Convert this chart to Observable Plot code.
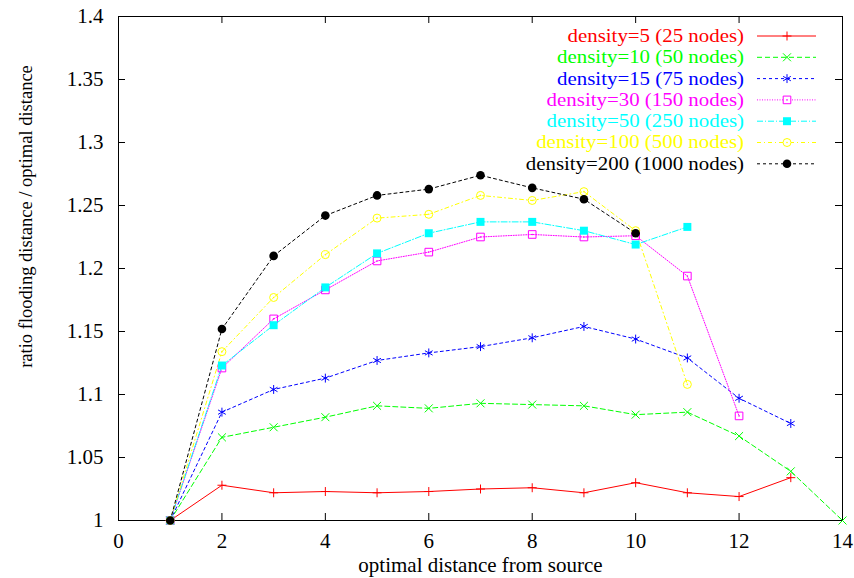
<!DOCTYPE html>
<html><head><meta charset="utf-8">
<script src="https://cdn.jsdelivr.net/npm/d3@7"></script>
<script src="https://cdn.jsdelivr.net/npm/@observablehq/plot@0.6"></script>
<style>body{margin:0;background:#fff} svg text{font-family:"Liberation Serif","Times New Roman",Times,"DejaVu Serif",serif !important;}</style>
</head><body><div id="chart"></div>
<script>
const distances = [1,2,3,4,5,6,7,8,9,10,11,12,13,14];
const seriesNames = [
  "density=5 (25 nodes)",
  "density=10 (50 nodes)",
  "density=15 (75 nodes)",
  "density=30 (150 nodes)",
  "density=50 (250 nodes)",
  "density=100 (500 nodes)",
  "density=200 (1000 nodes)"
];
const density5   = [1.000,1.028,1.022,1.023,1.022,1.023,1.025,1.026,1.022,1.030,1.022,1.019,1.034];
const density10  = [1.000,1.066,1.074,1.082,1.091,1.089,1.093,1.092,1.091,1.084,1.086,1.067,1.039,1.000];
const density15  = [1.000,1.086,1.104,1.113,1.127,1.133,1.138,1.145,1.154,1.144,1.129,1.097,1.077];
const density30  = [1.000,1.121,1.160,1.183,1.206,1.213,1.225,1.227,1.225,1.226,1.194,1.083];
const density50  = [1.000,1.123,1.155,1.185,1.212,1.228,1.237,1.237,1.230,1.219,1.233];
const density100 = [1.000,1.134,1.177,1.211,1.240,1.243,1.258,1.254,1.261,1.230,1.108];
const density200 = [1.000,1.152,1.210,1.242,1.258,1.263,1.274,1.264,1.255,1.228];
const seriesValues = [density5, density10, density15, density30, density50, density100, density200];

const xTicks = [0,2,4,6,8,10,12,14];
const yTicks = [1,1.05,1.1,1.15,1.2,1.25,1.3,1.35,1.4];
const xLabel = "optimal distance from source";
const yLabel = "ratio flooding distance / optimal distance";

const colors  = ["#ff0000","#00ff00","#0000ff","#ff00ff","#00ffff","#ffff00","#000000"];
const symbols = ["plus","times","asterisk","square","square","circle","circle"];
const filled  = [false,false,false,false,true,false,true];
const centerDot = [false,false,false,true,false,true,false];
const symR    = [3.0,3.7,4.2,4.3,4.5,4.0,4.3];
const dashes  = [null,"5,3","3,3","1,1.5","6,2,1,2","4,3,1,3","3,3"];

const FONT = '"Liberation Serif","Times New Roman",Times,"DejaVu Serif",serif';
const W = 854, H = 578, mL = 118, mR = 12, mT = 16, mB = 58;
const pw = W - mL - mR, ph = H - mT - mB;

const rows = seriesValues.map((vals, i) => vals.map((v, j) => ({series: seriesNames[i], x: distances[j], y: v})));

const marks = [
  Plot.frame({stroke: "black"}),
  Plot.tickY(yTicks, {y: d => d, insetRight: pw - 7, stroke: "black"}),
  Plot.tickY(yTicks, {y: d => d, insetLeft: pw - 7, stroke: "black"}),
  Plot.tickX(xTicks, {x: d => d, insetTop: ph - 7, stroke: "black"}),
  Plot.tickX(xTicks, {x: d => d, insetBottom: ph - 7, stroke: "black"}),
  Plot.axisX({ticks: xTicks, tickSize: 0, tickPadding: 13, label: null, tickFormat: d => String(d)}),
  Plot.axisY({ticks: yTicks, tickSize: 0, tickPadding: 15, label: null, tickFormat: d => String(+d.toFixed(2))}),
  Plot.text([xLabel], {text: d => d, frameAnchor: "bottom", lineAnchor: "middle", textAnchor: "middle", dy: 45}),
  Plot.text([yLabel], {text: d => d, frameAnchor: "left", textAnchor: "middle", lineAnchor: "middle", dx: -92, dy: -52, rotate: -90, fontSize: 18.5})
];
rows.forEach((data, i) => {
  marks.push(Plot.line(data, {x: "x", y: "y", stroke: colors[i], strokeWidth: 1, strokeDasharray: dashes[i] || undefined}));
});
rows.forEach((data, i) => {
  marks.push(Plot.dot(data, {x: "x", y: "y", symbol: symbols[i], r: symR[i],
    stroke: filled[i] ? "none" : colors[i], fill: filled[i] ? colors[i] : "none", strokeWidth: 1}));
  if (centerDot[i]) marks.push(Plot.dot(data, {x: "x", y: "y", r: 0.8, fill: colors[i]}));
});

const chart = Plot.plot({
  width: W, height: H,
  marginLeft: mL, marginRight: mR, marginTop: mT, marginBottom: mB,
  x: {domain: [0, 14]},
  y: {domain: [1, 1.4]},
  style: {fontFamily: FONT, fontSize: "21px", background: "white", color: "black"},
  marks
});
document.getElementById("chart").appendChild(chart);

// legend
const svg = d3.select(chart);
const lg = svg.append("g").attr("font-family", FONT).attr("font-size", 18.5);
const symMap = {plus: d3.symbolPlus, times: d3.symbolTimes, asterisk: d3.symbolAsterisk, square: d3.symbolSquare, circle: d3.symbolCircle};
seriesNames.forEach((name, i) => {
  const y = 36 + i * 21.3;
  lg.append("text").attr("transform", `translate(744,${y}) scale(1.13,1)`).attr("dy", "0.32em").attr("text-anchor", "end")
    .attr("fill", colors[i]).text(name);
  lg.append("line").attr("x1", 757).attr("x2", 816).attr("y1", y).attr("y2", y)
    .attr("stroke", colors[i]).attr("stroke-width", 1).attr("stroke-dasharray", dashes[i]);
  lg.append("path").attr("transform", `translate(787,${y})`)
    .attr("d", d3.symbol(symMap[symbols[i]], Math.PI * symR[i] * symR[i])())
    .attr("fill", filled[i] ? colors[i] : (symbols[i] === "square" || symbols[i] === "circle" ? "white" : "none"))
    .attr("stroke", filled[i] ? "none" : colors[i]).attr("stroke-width", 1);
  if (centerDot[i]) lg.append("circle").attr("cx", 787).attr("cy", y).attr("r", 0.8).attr("fill", colors[i]);
});
</script>
</body></html>
